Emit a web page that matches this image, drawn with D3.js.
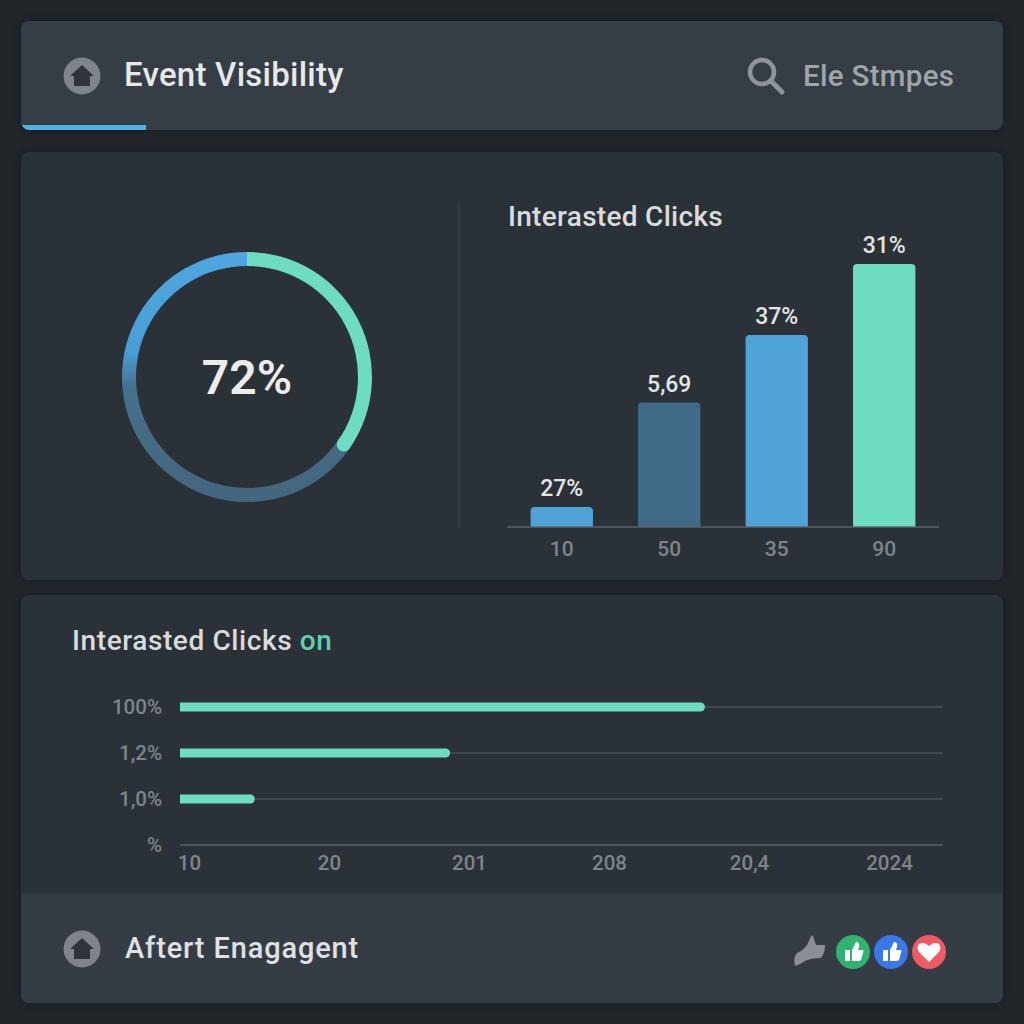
<!DOCTYPE html>
<html>
<head>
<meta charset="utf-8">
<script src="https://d3js.org/d3.v7.min.js"></script>
<style>
  html, body { margin: 0; padding: 0; background: #22262b; }
  svg { display: block; font-family: Roboto, sans-serif; }
  .axis path, .axis line { display: none; }
</style>
</head>
<body>
<svg id="chart" width="1024" height="1024"></svg>
<script>
// values
var gaugeLabel = "72%";
var gaugeGreen = 34.7;   // share of the ring, from 12 o'clock clockwise

var columnLabels = ["10", "50", "35", "90"];
var columnValues = [7.6, 47.3, 73, 100];
var columnTexts = ["27%", "5,69", "37%", "31%"];
var columnColors = ["#4fa3d6", "#3f6b87", "#4fa3d6", "#6edcc0"];

var rowLabels = ["100%", "1,2%", "1,0%", "%"];
var rowValues = [68.8, 35.4, 9.8, 0];
var xTickLabels = ["10", "20", "201", "208", "20,4", "2024"];

var svg = d3.select("#chart");
var defs = svg.append("defs");

var shadow = defs.append("filter").attr("id", "soft")
  .attr("x", "-5%").attr("y", "-10%").attr("width", "110%").attr("height", "120%");
shadow.append("feDropShadow").attr("dx", 0).attr("dy", 0).attr("stdDeviation", 5)
  .attr("flood-color", "#1a1d21").attr("flood-opacity", 0.4);

// ring coordinates are relative to its centre
var ringFill = defs.append("linearGradient").attr("id", "ringFill")
  .attr("gradientUnits", "userSpaceOnUse")
  .attr("x1", 0).attr("y1", -125).attr("x2", 0).attr("y2", 125);
ringFill.append("stop").attr("offset", 0).attr("stop-color", "#4ea7e0");
ringFill.append("stop").attr("offset", 0.40).attr("stop-color", "#4a9ed6");
ringFill.append("stop").attr("offset", 0.54).attr("stop-color", "#44728f");
ringFill.append("stop").attr("offset", 0.75).attr("stop-color", "#466a82");
ringFill.append("stop").attr("offset", 1).attr("stop-color", "#44677f");

// panels
function panel(x, y, w, h, fill) {
  svg.append("rect").attr("x", x).attr("y", y).attr("width", w).attr("height", h)
    .attr("rx", 8).attr("fill", fill).attr("filter", "url(#soft)");
}
panel(21, 21, 982, 109, "#363c44");
panel(21, 152, 982, 428, "#2b3038");
panel(21, 595, 982, 408, "#2b3038");

// footer sits on the lower panel, square on top
svg.append("path")
  .attr("d", "M21 894H1003V995a8 8 0 0 1 -8 8H29a8 8 0 0 1 -8 -8Z")
  .attr("fill", "#363c44");

// accent under the header
svg.append("path")
  .attr("d", "M22 125H146V130H30Q24 130 22 125Z")
  .attr("fill", "#4fb3e0");

function homeIcon(cx, cy) {
  var g = svg.append("g").attr("transform", "translate(" + cx + "," + cy + ")");
  g.append("circle").attr("r", 18.5).attr("fill", "#7f848c");
  g.append("path").attr("d", "M0 -11L12 0H8V10H-8V0H-12Z").attr("fill", "#2f343c");
}
homeIcon(82, 76);
homeIcon(82, 949);

function label(x, y, text, size, weight, fill, anchor) {
  return svg.append("text").attr("x", x).attr("y", y).text(text)
    .attr("font-size", size).attr("font-weight", weight)
    .attr("fill", fill).attr("text-anchor", anchor || "start");
}
label(124, 86, "Event Visibility", 33, 500, "#e6e8ea").attr("letter-spacing", 0.25);
label(803, 86, "Ele Stmpes", 29.5, 500, "#a0a5ab").attr("letter-spacing", 0.3);
label(125, 958, "Aftert Enagagent", 29, 500, "#dfe1e4").attr("letter-spacing", 0.85);

// search icon
var search = svg.append("g").attr("transform", "translate(762,72)")
  .attr("fill", "none").attr("stroke", "#8f949b").attr("stroke-width", 4.5);
search.append("circle").attr("r", 12);
search.append("line").attr("x1", 9).attr("y1", 9).attr("x2", 20).attr("y2", 20)
  .attr("stroke-linecap", "round").attr("stroke-width", 5);

// gauge
var ring = svg.append("g").attr("transform", "translate(247,377)");
var ringAngle = d3.scaleLinear().domain([0, 100]).range([0, 2 * Math.PI]);
var ringArc = d3.arc().innerRadius(111).outerRadius(125);

ring.append("path")
  .attr("d", ringArc({ startAngle: ringAngle(gaugeGreen - 1), endAngle: ringAngle(100) }))
  .attr("fill", "url(#ringFill)");
ring.append("path")
  .attr("d", ringArc({ startAngle: 0, endAngle: ringAngle(gaugeGreen) }))
  .attr("fill", "#6edcc0");
var capAt = ringAngle(gaugeGreen);
ring.append("circle")
  .attr("cx", 118 * Math.sin(capAt))
  .attr("cy", -118 * Math.cos(capAt))
  .attr("r", 7).attr("fill", "#6edcc0");
label(247, 394, gaugeLabel, 48, 600, "#ececec", "middle");

// divider
svg.append("line").attr("x1", 459).attr("x2", 459).attr("y1", 203).attr("y2", 528)
  .attr("stroke", "#3a4048").attr("stroke-width", 1.5);

// column chart
label(508, 226, "Interasted Clicks", 28, 500, "#d9dbde").attr("letter-spacing", 0.3);

var colX = d3.scaleBand().domain(columnLabels).range([507.5, 938.5]).paddingInner(0.42).paddingOuter(0.215);
var colY = d3.scaleLinear().domain([0, 100]).range([527, 264]);

svg.selectAll(".col").data(columnValues).enter().append("path")
  .attr("class", "col")
  .attr("fill", function (d, i) { return columnColors[i]; })
  .attr("d", function (d, i) {
    var x = colX(columnLabels[i]), w = colX.bandwidth(), y = colY(d), r = 4;
    return "M" + x + " " + colY(0) + "V" + (y + r) + "Q" + x + " " + y + " " + (x + r) + " " + y +
      "H" + (x + w - r) + "Q" + (x + w) + " " + y + " " + (x + w) + " " + (y + r) + "V" + colY(0) + "Z";
  });

svg.selectAll(".colText").data(columnTexts).enter().append("text")
  .attr("class", "colText")
  .attr("x", function (d, i) { return colX(columnLabels[i]) + colX.bandwidth() / 2; })
  .attr("y", function (d, i) { return colY(columnValues[i]) - 11; })
  .attr("text-anchor", "middle").attr("font-size", 23).attr("font-weight", 500)
  .attr("fill", "#e2e4e6")
  .text(function (d) { return d; });

svg.append("line").attr("x1", 507).attr("x2", 939).attr("y1", colY(0)).attr("y2", colY(0))
  .attr("stroke", "#5b6068").attr("stroke-width", 1.5);

var colAxis = svg.append("g").attr("class", "axis")
  .attr("transform", "translate(0,527)")
  .call(d3.axisBottom(colX).tickSize(0).tickPadding(14));
colAxis.selectAll("text").attr("font-size", 21).attr("font-weight", 500).attr("fill", "#7f848b")
  .attr("font-family", "Roboto, sans-serif");

// row chart
var title = label(72, 650, "Interasted Clicks ", 28, 500, "#d9dbde").attr("letter-spacing", 0.6);
title.append("tspan").attr("fill", "#5fcfae").text("on");

var rowX = d3.scaleLinear().domain([0, 100]).range([180, 943]);
var rowY = d3.scalePoint().domain(rowLabels).range([707, 845]);

svg.selectAll(".grid").data(rowLabels).enter().append("line")
  .attr("class", "grid")
  .attr("x1", rowX(0)).attr("x2", rowX(100))
  .attr("y1", function (d) { return rowY(d); })
  .attr("y2", function (d) { return rowY(d); })
  .attr("stroke", function (d, i) { return i == 3 ? "#5b6068" : "#494e56"; })
  .attr("stroke-width", 1.5);

svg.selectAll(".row").data(rowValues.filter(function (d) { return d > 0; })).enter().append("path")
  .attr("class", "row")
  .attr("fill", "#6edcc0")
  .attr("d", function (d, i) {
    var y = rowY(rowLabels[i]) - 4.5, x = rowX(d);
    return "M" + rowX(0) + " " + y + "H" + (x - 4.5) + "a4.5 4.5 0 0 1 0 9H" + rowX(0) + "Z";
  });

var rowAxis = svg.append("g").attr("class", "axis")
  .attr("transform", "translate(162,0)")
  .call(d3.axisLeft(rowY).tickSize(0).tickPadding(0));
rowAxis.selectAll("text").attr("font-size", 20.5).attr("font-weight", 500).attr("fill", "#7f848b")
  .attr("font-family", "Roboto, sans-serif");

var timeX = d3.scalePoint().domain(xTickLabels).range([189, 889]);
var timeAxis = svg.append("g").attr("class", "axis")
  .attr("transform", "translate(0,845)")
  .call(d3.axisBottom(timeX).tickSize(0).tickPadding(10));
timeAxis.selectAll("text").attr("font-size", 20.5).attr("font-weight", 500).attr("fill", "#7f848b")
  .attr("font-family", "Roboto, sans-serif");

// reactions
var thumbPath = "M-8 -2H-3V9H-8Z M-1 -2L3 -10Q7 -10 6 -5L5 -2H10Q11 -1 10 1L8 8Q7 9 5 9H-1Z";
function badge(cx, fill) {
  var g = svg.append("g").attr("transform", "translate(" + cx + ",952)");
  g.append("circle").attr("r", 17).attr("fill", fill);
  return g;
}
badge(853, "#2fb36f").append("path").attr("d", thumbPath).attr("fill", "#fff");
badge(891, "#3b78e7").append("path").attr("d", thumbPath).attr("fill", "#fff");
badge(929, "#ef5a63").append("path")
  .attr("d", "M0 10L-10 0Q-13 -4 -10 -8Q-5 -11 0 -6Q5 -11 10 -8Q13 -4 10 0Z")
  .attr("fill", "#fff");
svg.append("path")
  .attr("d", "M795 966Q793 958 797 953Q806 949 809 941Q811 934 813 936L816 945H825Q825 953 821 958Q811 958 805 961Q799 965 795 966Z")
  .attr("fill", "#8a8f96");
</script>
</body>
</html>
